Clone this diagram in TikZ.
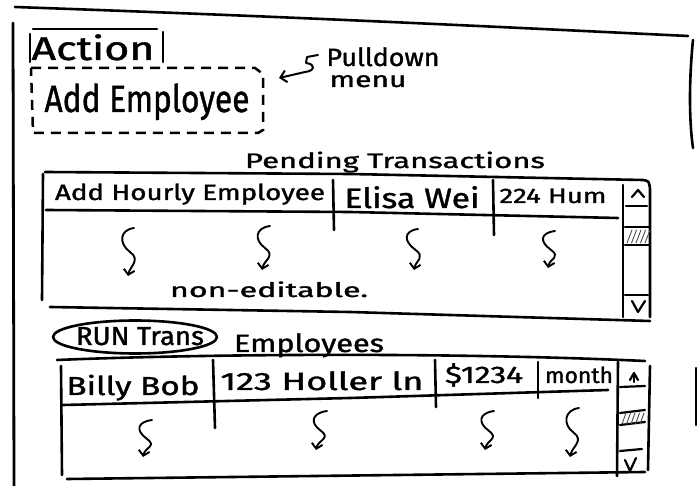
\documentclass[tikz,border=0pt]{standalone}
\usepackage{graphicx}
\usepackage{fontspec}
\setmainfont{Fira Sans}[FakeBold=1.2]
\usetikzlibrary{arrows.meta,shapes.geometric,calc}

% #1 = printed width, #2 = font size, #3 = text
\newcommand\fitw[3]{{\fontsize{#2}{#2}\selectfont\resizebox{#1}{\height}{#3}}}

\begin{document}
\begin{tikzpicture}[x=1pt,y=-1pt,
  pen/.style={line width=2.6pt,line cap=round,line join=round},
  dashpen/.style={line width=2.5pt,dash pattern=on 10pt off 7pt},
  lbl/.style={inner sep=0pt,anchor=base},
  squig/.style={line width=1.9pt,line cap=round,
    -{Straight Barb[length=5pt,width=11pt,line width=1.9pt]}},
  hatch/.style={line width=0.9pt,black!70,line cap=round},
  chev/.style={line width=2.2pt,line cap=round,line join=round}]
\useasboundingbox (0,0) rectangle (697,486);

% ---------- window frame ----------
\draw[pen,line width=2.8pt] (13,23) -- (14,486);
\draw[pen] (15,7) .. controls (300,17) and (500,27) .. (688,36);
\draw[pen] (693,40) .. controls (689,80) and (689,120) .. (693,148);
\draw[pen] (696,368) -- (696,425);

% ---------- action field ----------
\node[lbl] (action) at (93,60) {\fitw{123pt}{33}{Action}};
\draw[pen] (30,34) -- (30,62);
\draw[pen] (33,29) -- (157,29);
\draw[pen] (163,32) -- (163,62);

\node[lbl] (menu) at (147,112) {\fitw{205pt}{38}{Add Employee}};
\draw[dashpen] (31,68) -- (255,68) -- (263,74) -- (263,130) -- (258,133)
  -- (33,133) -- cycle;

% pulldown note
\node[lbl] (pull1) at (383,66) {\fitw{113pt}{25}{Pulldown}};
\node[lbl] (pull2) at (368,87) {\fitw{77pt}{22}{menu}};
\coordinate (pullS) at (318,55);
\coordinate (pullTip) at (279,78);
\draw[pen,line width=2pt,-{Straight Barb[length=6pt,width=12pt,line width=2pt]}]
  (pullS) -- (307,57) -- (306,63) .. controls (316,64) and (315,71) .. (305,72)
  -- (pullTip);

% ---------- pending transactions table ----------
\node[lbl] (ptitle) at (395,168) {\fitw{300pt}{21}{Pending Transactions}};

\draw[pen] (45,172) -- (350,174) -- (643,180) .. controls (649,181) .. (650,189)
  -- (650,317);
\draw[pen] (43,174) -- (42,300);
\draw[pen] (46,210) -- (350,212) -- (618,218);
\draw[pen] (333,180) -- (334,230);
\draw[pen] (493,180) -- (494,235);
\draw[pen] (50,307) -- (350,312) -- (650,321);

\node[lbl] (h1) at (190,200) {\fitw{270pt}{22}{Add Hourly Employee}};
\node[lbl] (h2) at (412,208) {\fitw{135pt}{28}{Elisa Wei}};
\node[lbl] (h3) at (553,203) {\fitw{107pt}{21}{224 Hum}};

% scrollbar
\draw[pen] (623,185) -- (623,317);
\draw[chev] (632,197) -- (638,190) -- (644,197);
\draw[pen,line width=2.2pt] (626,206) -- (647,206);
\draw[pen,line width=2.2pt] (625,227) -- (649,227);
\draw[pen,line width=2.2pt] (625,245) -- (649,245);
\foreach \i in {0,...,4}
  \draw[hatch] (627+4.5*\i,243) -- (632+4.5*\i,230);
\draw[pen,line width=2.2pt] (625,295) -- (648,295);
\draw[chev] (632,301) -- (638,312) -- (645,301);

% down arrows (S-shaped)
\foreach \n/\xa/\ya/\xb/\yb in {p1/134/228/128/276, p2/270/226/262/270,
    p3/418/229/414/270, p4/555/231/548/268} {
  \coordinate (\n t) at (\xa,\ya);
  \coordinate (\n b) at (\xb,\yb);
  \coordinate (\n m) at ($(\n t)!.5!(\n b)+(-1,0)$);
  \draw[squig] (\n t) .. controls +(-15,2) and +(-11,-8) .. (\n m)
    .. controls +(11,8) and +(2,-10) .. (\n b);
}
\node[lbl] (note) at (269,297) {\fitw{198pt}{20}{non-editable.}};

% ---------- employees table ----------
\node[draw,pen,ellipse,minimum width=164pt,minimum height=33pt,inner sep=0pt]
  (runbtn) at (135,337) {};
\node[lbl] (runlbl) at (140,345) {\fitw{128pt}{26}{RUN Trans}};
\node[lbl] (etitle) at (309,352) {\fitw{150pt}{25}{Employees}};

\draw[pen] (57,360) .. controls (200,354) and (450,352) .. (645,361);
\draw[pen] (61,366) -- (62,475);
\draw[pen] (63,405) -- (350,398) -- (608,390);
\draw[pen] (213,360) -- (215,428);
\draw[pen] (435,360) -- (436,407);
\draw[pen] (538,362) -- (538,398);
\draw[pen] (67,479) -- (645,472);

\node[lbl] (e1) at (133,395) {\fitw{133pt}{26}{Billy Bob}};
\node[lbl] (e2) at (322,390) {\fitw{203pt}{25}{123 Holler ln}};
\node[lbl] (e3) at (484,383) {\fitw{78pt}{24}{\$1234}};
\node[lbl] (e4) at (579,383) {\fitw{68pt}{22}{month}};

% scrollbar
\draw[pen] (618,362) -- (617,476);
\draw[pen] (650,366) -- (648,470);
\draw[chev] (630,380) -- (634,373) -- (638,380);
\draw[chev] (634,374) -- (634,382);
\draw[pen,line width=2.2pt] (620,387) -- (645,386);
\draw[pen,line width=2.2pt] (620,413) -- (645,410);
\draw[pen,line width=2.2pt] (620,425) -- (645,422);
\foreach \i in {0,...,4}
  \draw[hatch] (622+4.5*\i,424) -- (626+4.5*\i,413);
\draw[pen,line width=2.2pt] (620,451) -- (642,449);
\draw[chev] (625,460) -- (630,471) -- (636,458);

\foreach \n/\xa/\ya/\xb/\yb in {q1/152/420/143/457, q2/327/411/316/450,
    q3/494/411/485/450, q4/579/408/570/457} {
  \coordinate (\n t) at (\xa,\ya);
  \coordinate (\n b) at (\xb,\yb);
  \coordinate (\n m) at ($(\n t)!.5!(\n b)+(-1,0)$);
  \draw[squig] (\n t) .. controls +(-15,2) and +(-11,-8) .. (\n m)
    .. controls +(11,8) and +(2,-10) .. (\n b);
}
\end{tikzpicture}
\end{document}
